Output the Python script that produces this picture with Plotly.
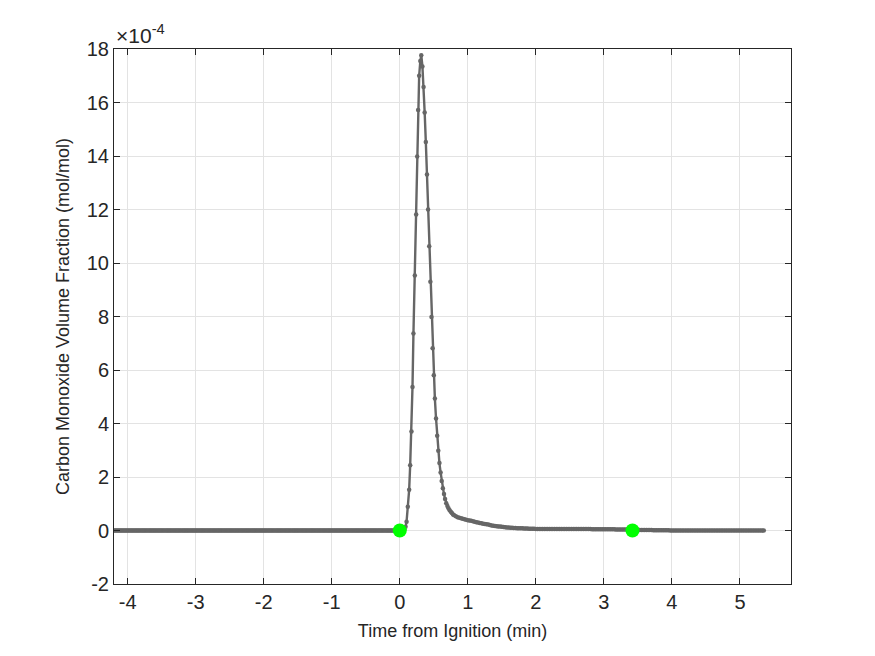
import plotly.graph_objects as go

# ---------------- data (CO volume fraction in units of 1e-4 mol/mol) ----------------
# pre-ignition baseline, 1-second samples (reads as zero)
pre_time = [round(-4.2 + i / 60, 4) for i in range(252)]
pre_co = [0.0] * len(pre_time)

# ignition event: rise, peak and decay
event_time = [0.0, 0.017, 0.033, 0.05, 0.068, 0.085, 0.1, 0.118, 0.138, 0.153,
              0.172, 0.187, 0.201, 0.221, 0.241, 0.256, 0.27, 0.285, 0.302, 0.316,
              0.333, 0.35, 0.366, 0.383, 0.4, 0.416, 0.433, 0.45, 0.466, 0.483,
              0.5, 0.516, 0.533, 0.55, 0.566, 0.583, 0.6, 0.616, 0.633, 0.65,
              0.666, 0.683, 0.7, 0.716, 0.733, 0.75, 0.766, 0.783, 0.8, 0.825,
              0.85, 0.875, 0.9, 0.925, 0.95, 0.975, 1.0, 1.025, 1.05, 1.075,
              1.1, 1.125, 1.15, 1.175, 1.2, 1.225, 1.25, 1.275, 1.3, 1.325,
              1.35, 1.375, 1.4, 1.425, 1.45, 1.475, 1.5, 1.525, 1.55, 1.575,
              1.6, 1.625, 1.65, 1.675, 1.7, 1.725, 1.75, 1.775, 1.8, 1.825,
              1.85, 1.875, 1.9, 1.925, 1.95, 1.975, 2.0]
event_co = [0.0, 0.0, 0.0, 0.02, 0.05, 0.14, 0.33, 0.89, 1.52, 2.44,
            3.70, 5.36, 7.36, 9.53, 11.81, 13.98, 15.72, 17.0, 17.55, 17.77,
            17.35, 16.58, 15.63, 14.52, 13.31, 12.0, 10.63, 9.30, 7.98, 6.81,
            5.80, 4.93, 4.19, 3.54, 2.98, 2.52, 2.17, 1.85, 1.58, 1.36,
            1.18, 1.02, 0.92, 0.83, 0.76, 0.70, 0.65, 0.60, 0.57, 0.53,
            0.50, 0.48, 0.46, 0.44, 0.42, 0.40, 0.38, 0.37, 0.36, 0.35,
            0.33, 0.31, 0.30, 0.28, 0.27, 0.255, 0.24, 0.23, 0.22, 0.205,
            0.19, 0.18, 0.17, 0.16, 0.15, 0.145, 0.14, 0.13, 0.12, 0.115,
            0.11, 0.105, 0.10, 0.095, 0.09, 0.088, 0.085, 0.083, 0.08, 0.078,
            0.075, 0.073, 0.07, 0.068, 0.065, 0.063, 0.06]

# post-event baseline, every 0.025 min (level)
post_time = [round(2.025 + 0.025 * i, 3) for i in range(134)]
post_co = ([0.06] * 32 + [0.05] * 14 + [0.04] * 8 + [0.03] * 6 + [0.02] * 8
           + [0.01] * 10 + [0.0] * 56)

# highlighted points (ignition / end)
mark_time = [0.0, 3.42]
mark_co = [0.0, 0.0]

x_ticks = [-4, -3, -2, -1, 0, 1, 2, 3, 4, 5]
y_ticks = [-2, 0, 2, 4, 6, 8, 10, 12, 14, 16, 18]

time = pre_time + event_time + post_time
co = pre_co + event_co + post_co

AX = "#262626"
FONT = "Liberation Sans, Arial, sans-serif"

fig = go.Figure()
fig.add_trace(go.Scatter(
    x=time, y=co, mode="lines+markers",
    line=dict(color="#666666", width=2.4),
    marker=dict(color="#666666", size=4.5),
    showlegend=False, hoverinfo="x+y"))
fig.add_trace(go.Scatter(
    x=mark_time, y=mark_co, mode="markers",
    marker=dict(color="#00ff00", size=14),
    showlegend=False))

axis_common = dict(
    showline=True, linecolor=AX, linewidth=1, mirror="ticks",
    ticks="inside", ticklen=6, tickcolor=AX, tickwidth=1,
    showgrid=True, gridcolor="#e3e3e3", gridwidth=1, zeroline=False,
    tickfont=dict(family=FONT, size=20, color=AX),
)

fig.update_xaxes(range=[-4.2, 5.75], tickvals=x_ticks,
                 ticktext=[str(v) for v in x_ticks],
                 title=dict(text="Time from Ignition (min)",
                            font=dict(family=FONT, size=18, color=AX), standoff=12),
                 **axis_common)
fig.update_yaxes(range=[-2, 18], tickvals=y_ticks,
                 ticktext=[str(v) for v in y_ticks],
                 title=dict(text="Carbon Monoxide Volume Fraction (mol/mol)",
                            font=dict(family=FONT, size=18, color=AX), standoff=12),
                 **axis_common)

fig.add_annotation(xref="paper", yref="paper", x=0, y=1, xanchor="left", yanchor="bottom",
                   text="×10<sup>-4</sup>", showarrow=False, yshift=0,
                   font=dict(family=FONT, size=21, color=AX))

fig.update_layout(
    width=875, height=656,
    margin=dict(l=114, r=84, t=49, b=72),
    paper_bgcolor="white", plot_bgcolor="white",
    font=dict(family=FONT, color=AX),
)

fig.write_html("out.html")
